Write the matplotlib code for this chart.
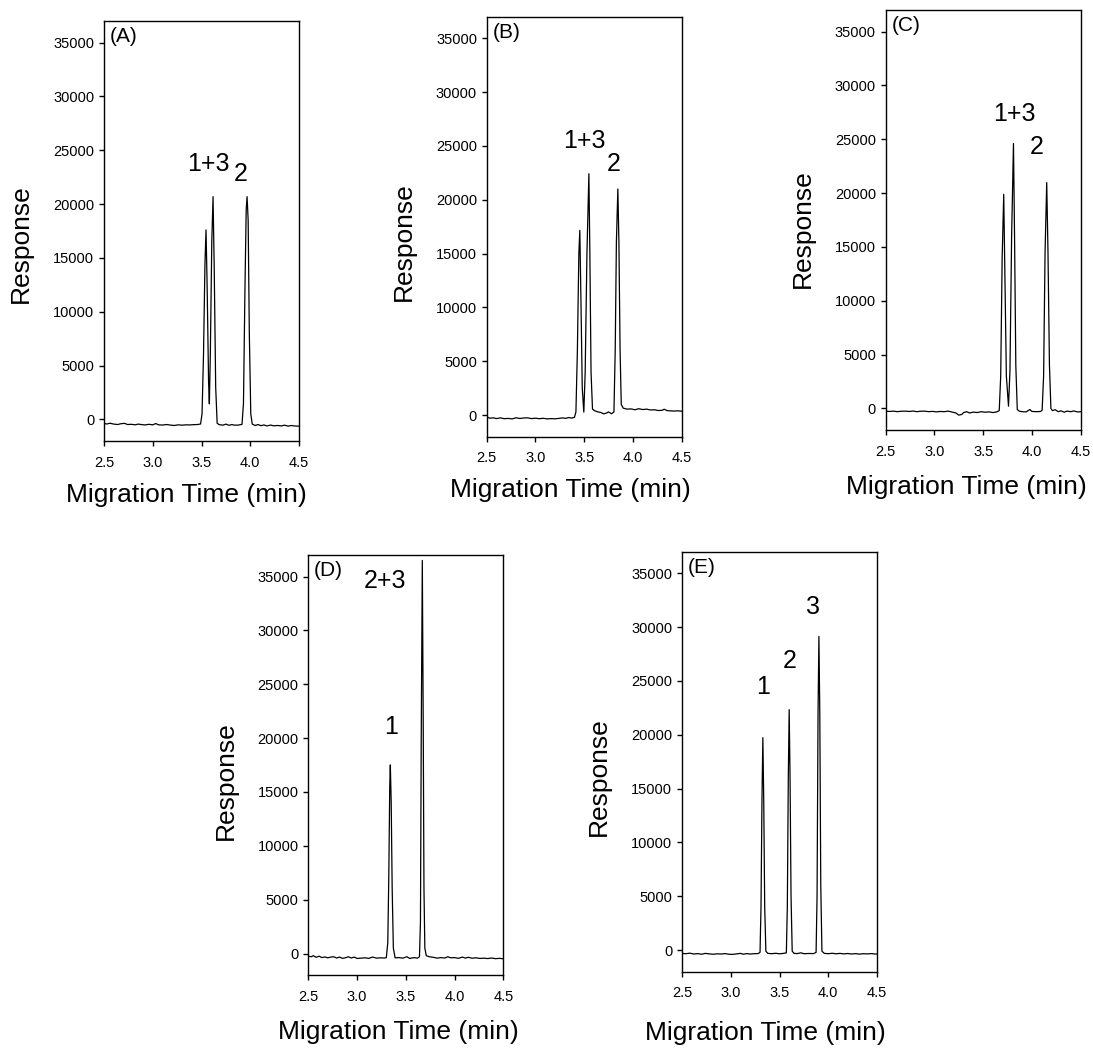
import matplotlib
matplotlib.use("Agg")
import matplotlib.pyplot as plt
import numpy as np

plt.rcParams['font.family'] = ['Liberation Sans', 'DejaVu Sans']

# electropherogram traces (time in min, response)
t_A = [2.50, 2.53, 2.56, 2.60, 2.64, 2.67, 2.71, 2.74, 2.78, 2.82, 2.85, 2.88, 2.92, 2.96,
       3.00, 3.03, 3.06, 3.10, 3.14, 3.18, 3.22, 3.26, 3.30, 3.34, 3.38, 3.42, 3.46, 3.49,
       3.505, 3.52, 3.535, 3.546, 3.558, 3.572, 3.58, 3.59, 3.605, 3.618, 3.63, 3.645, 3.66,
       3.68, 3.72, 3.75, 3.78, 3.81, 3.84, 3.88, 3.915, 3.93, 3.945, 3.958, 3.967, 3.978,
       3.99, 4.005, 4.02, 4.05, 4.08, 4.11, 4.14, 4.17, 4.21, 4.24, 4.28, 4.32, 4.35, 4.39,
       4.42, 4.46, 4.50]
r_A = [-380, -420, -350, -430, -470, -400, -360, -470, -450, -500, -430, -470, -510, -450,
       -500, -380, -500, -520, -470, -520, -560, -500, -530, -500, -510, -480, -470, -420,
       500, 6000, 14500, 17600, 12000, 3500, 1450, 6000, 16500, 20690, 14000, 3000, -350,
       -480, -530, -430, -540, -480, -530, -520, -450, 1500, 12000, 19500, 20690, 18500,
       8000, 500, -430, -560, -470, -580, -510, -600, -520, -590, -560, -600, -530, -620,
       -560, -610, -620]

t_B = [2.50, 2.53, 2.57, 2.60, 2.64, 2.68, 2.72, 2.76, 2.80, 2.84, 2.88, 2.92, 2.96, 3.00,
       3.04, 3.08, 3.12, 3.16, 3.20, 3.24, 3.28, 3.31, 3.34, 3.37, 3.40, 3.415, 3.43, 3.445,
       3.455, 3.466, 3.48, 3.496, 3.51, 3.528, 3.548, 3.558, 3.57, 3.585, 3.61, 3.64, 3.67,
       3.70, 3.73, 3.75, 3.78, 3.805, 3.818, 3.83, 3.845, 3.856, 3.868, 3.88, 3.90, 3.94,
       3.98, 4.02, 4.06, 4.10, 4.14, 4.18, 4.22, 4.26, 4.30, 4.32, 4.35, 4.38, 4.42, 4.46, 4.50]
r_B = [-150, -280, -250, -320, -250, -330, -300, -350, -240, -310, -260, -250, -320, -280,
       -330, -290, -350, -320, -340, -300, -250, -300, -220, -270, -200, 300, 6000, 15000,
       17160, 11000, 2500, 280, 4000, 15000, 22420, 15000, 4000, 550, 400, 300, 250,
       120, 200, 300, 130, 300, 6000, 16000, 21000, 16000, 6000, 1000, 650, 560,
       580, 500, 600, 520, 560, 480, 500, 430, 450, 550, 420, 400, 380, 400, 370]

t_C = [2.50, 2.54, 2.58, 2.62, 2.66, 2.70, 2.74, 2.78, 2.82, 2.86, 2.90, 2.94, 2.98, 3.02,
       3.06, 3.10, 3.14, 3.18, 3.22, 3.25, 3.28, 3.30, 3.33, 3.36, 3.40, 3.44, 3.48, 3.52,
       3.56, 3.60, 3.64, 3.665, 3.68, 3.695, 3.711, 3.722, 3.738, 3.76, 3.775, 3.792, 3.811,
       3.822, 3.835, 3.85, 3.87, 3.90, 3.94, 3.98, 4.00, 4.05, 4.09, 4.105, 4.12, 4.135,
       4.152, 4.165, 4.18, 4.195, 4.21, 4.24, 4.27, 4.30, 4.33, 4.36, 4.40, 4.43, 4.47, 4.50]
r_C = [-250, -280, -250, -300, -260, -250, -280, -240, -300, -260, -250, -300, -270, -320,
       -280, -300, -250, -330, -420, -620, -560, -380, -300, -420, -340, -380, -300, -350,
       -320, -380, -320, -200, 3000, 14000, 19890, 13000, 3000, 210, 3500, 16000, 24600,
       16000, 4000, -100, -250, -300, -320, -100, -280, -300, -280, -150, 3000, 14500,
       20970, 14500, 4000, 0, -200, -120, -300, -220, -350, -250, -300, -230, -330, -300]

t_D = [2.50, 2.53, 2.55, 2.58, 2.61, 2.64, 2.67, 2.70, 2.73, 2.76, 2.79, 2.82, 2.85, 2.88,
       2.91, 2.94, 2.97, 3.00, 3.04, 3.08, 3.12, 3.16, 3.20, 3.24, 3.28, 3.30, 3.315, 3.325,
       3.335, 3.341, 3.35, 3.36, 3.372, 3.39, 3.43, 3.47, 3.51, 3.54, 3.58, 3.62, 3.64, 3.65,
       3.658, 3.669, 3.678, 3.686, 3.695, 3.71, 3.74, 3.78, 3.82, 3.86, 3.90, 3.93, 3.96,
       4.00, 4.04, 4.08, 4.11, 4.14, 4.18, 4.22, 4.26, 4.30, 4.34, 4.38, 4.42, 4.46, 4.50]
r_D = [-250, -300, -200, -350, -250, -380, -320, -400, -330, -300, -420, -330, -450, -400,
       -300, -420, -330, -460, -430, -400, -450, -330, -430, -400, -420, -380, 1000, 7000,
       15500, 17510, 14000, 6000, 500, -400, -380, -430, -300, -460, -380, -430, -300, 3000,
       20000, 36500, 22000, 6000, 500, -200, -300, -350, -430, -380, -420, -300, -400,
       -380, -450, -330, -430, -350, -440, -400, -460, -430, -470, -420, -480, -450, -490]

t_E = [2.50, 2.54, 2.58, 2.62, 2.66, 2.70, 2.74, 2.78, 2.82, 2.86, 2.90, 2.94, 2.98, 3.02,
       3.06, 3.10, 3.13, 3.16, 3.20, 3.24, 3.28, 3.30, 3.31, 3.32, 3.329, 3.338, 3.348, 3.36,
       3.38, 3.42, 3.46, 3.50, 3.54, 3.57, 3.58, 3.59, 3.599, 3.608, 3.618, 3.63, 3.65, 3.68,
       3.72, 3.75, 3.80, 3.85, 3.875, 3.885, 3.895, 3.904, 3.913, 3.923, 3.935, 3.96, 4.00,
       4.04, 4.08, 4.12, 4.16, 4.20, 4.24, 4.28, 4.32, 4.36, 4.40, 4.44, 4.48, 4.50]
r_E = [-300, -330, -280, -360, -320, -380, -300, -350, -380, -340, -360, -320, -380, -390,
       -350, -300, -380, -320, -360, -330, -320, -200, 4000, 14000, 19730, 14000, 4000, -100,
       -300, -330, -290, -340, -300, -250, 4000, 16000, 22330, 16000, 5000, -100, -300, -320,
       -250, -330, -310, -320, -200, 5000, 22000, 29130, 22000, 6000, -100, -300, -330,
       -290, -340, -300, -350, -310, -360, -320, -370, -330, -350, -320, -360, -350]

# peak annotations: text, time, response (bottom of text)
labels_A = [("1+3", 3.57, 22640), ("2", 3.903, 21710)]
labels_B = [("1+3", 3.50, 24340), ("2", 3.807, 22240)]
labels_C = [("1+3", 3.82, 26230), ("2", 4.05, 23140)]
labels_D = [("2+3", 3.285, 33450), ("1", 3.348, 19920)]
labels_E = [("1", 3.335, 23320), ("2", 3.603, 25730), ("3", 3.843, 30740)]

panels = [
    ("(A)", t_A, r_A, labels_A, [0.0952, 0.5796, 0.1784, 0.4004], 0.424, -0.129, 0.47),
    ("(B)", t_B, r_B, labels_B, [0.4453, 0.5837, 0.1784, 0.4004], 0.427, -0.127, 0.465),
    ("(C)", t_C, r_C, labels_C, [0.8103, 0.5901, 0.1784, 0.4004], 0.415, -0.136, 0.48),
    ("(D)", t_D, r_D, labels_D, [0.2821, 0.0705, 0.1784, 0.4004], 0.46, -0.135, 0.463),
    ("(E)", t_E, r_E, labels_E, [0.6240, 0.0737, 0.1784, 0.4004], 0.426, -0.145, 0.464),
]

fig = plt.figure(figsize=(10.93, 10.49), dpi=100)

for tag, t, r, labs, rect, xl_x, xl_y, yl_y in panels:
    ax = fig.add_axes(rect)
    ax.plot(t, r, color='black', lw=0.9)
    ax.set_xlim(2.5, 4.5)
    ax.set_ylim(-2000, 37000)
    ax.set_xticks(np.arange(2.5, 4.51, 0.5))
    ax.set_xticklabels(["%.1f" % v for v in np.arange(2.5, 4.51, 0.5)])
    ax.set_yticks(range(0, 35001, 5000))
    ax.tick_params(direction='out', length=3.5, width=1, labelsize=10.5,
                   top=False, right=False)
    ax.tick_params(axis='x', pad=7)
    ax.tick_params(axis='y', pad=3.5)
    for s in ax.spines.values():
        s.set_linewidth(1)
    ax.set_ylabel("Response", fontsize=19, va='center')
    ax.yaxis.set_label_coords(-0.425, yl_y)
    ax.set_xlabel("Migration Time (min)", fontsize=19, va='center')
    ax.xaxis.set_label_coords(xl_x, xl_y)
    ax.text(0.03, 0.985, tag, transform=ax.transAxes, fontsize=15, ha='left', va='top')
    for txt, x, y in labs:
        ax.text(x, y, txt, fontsize=18, ha='center', va='bottom')

fig.savefig("out.png", dpi=100)
